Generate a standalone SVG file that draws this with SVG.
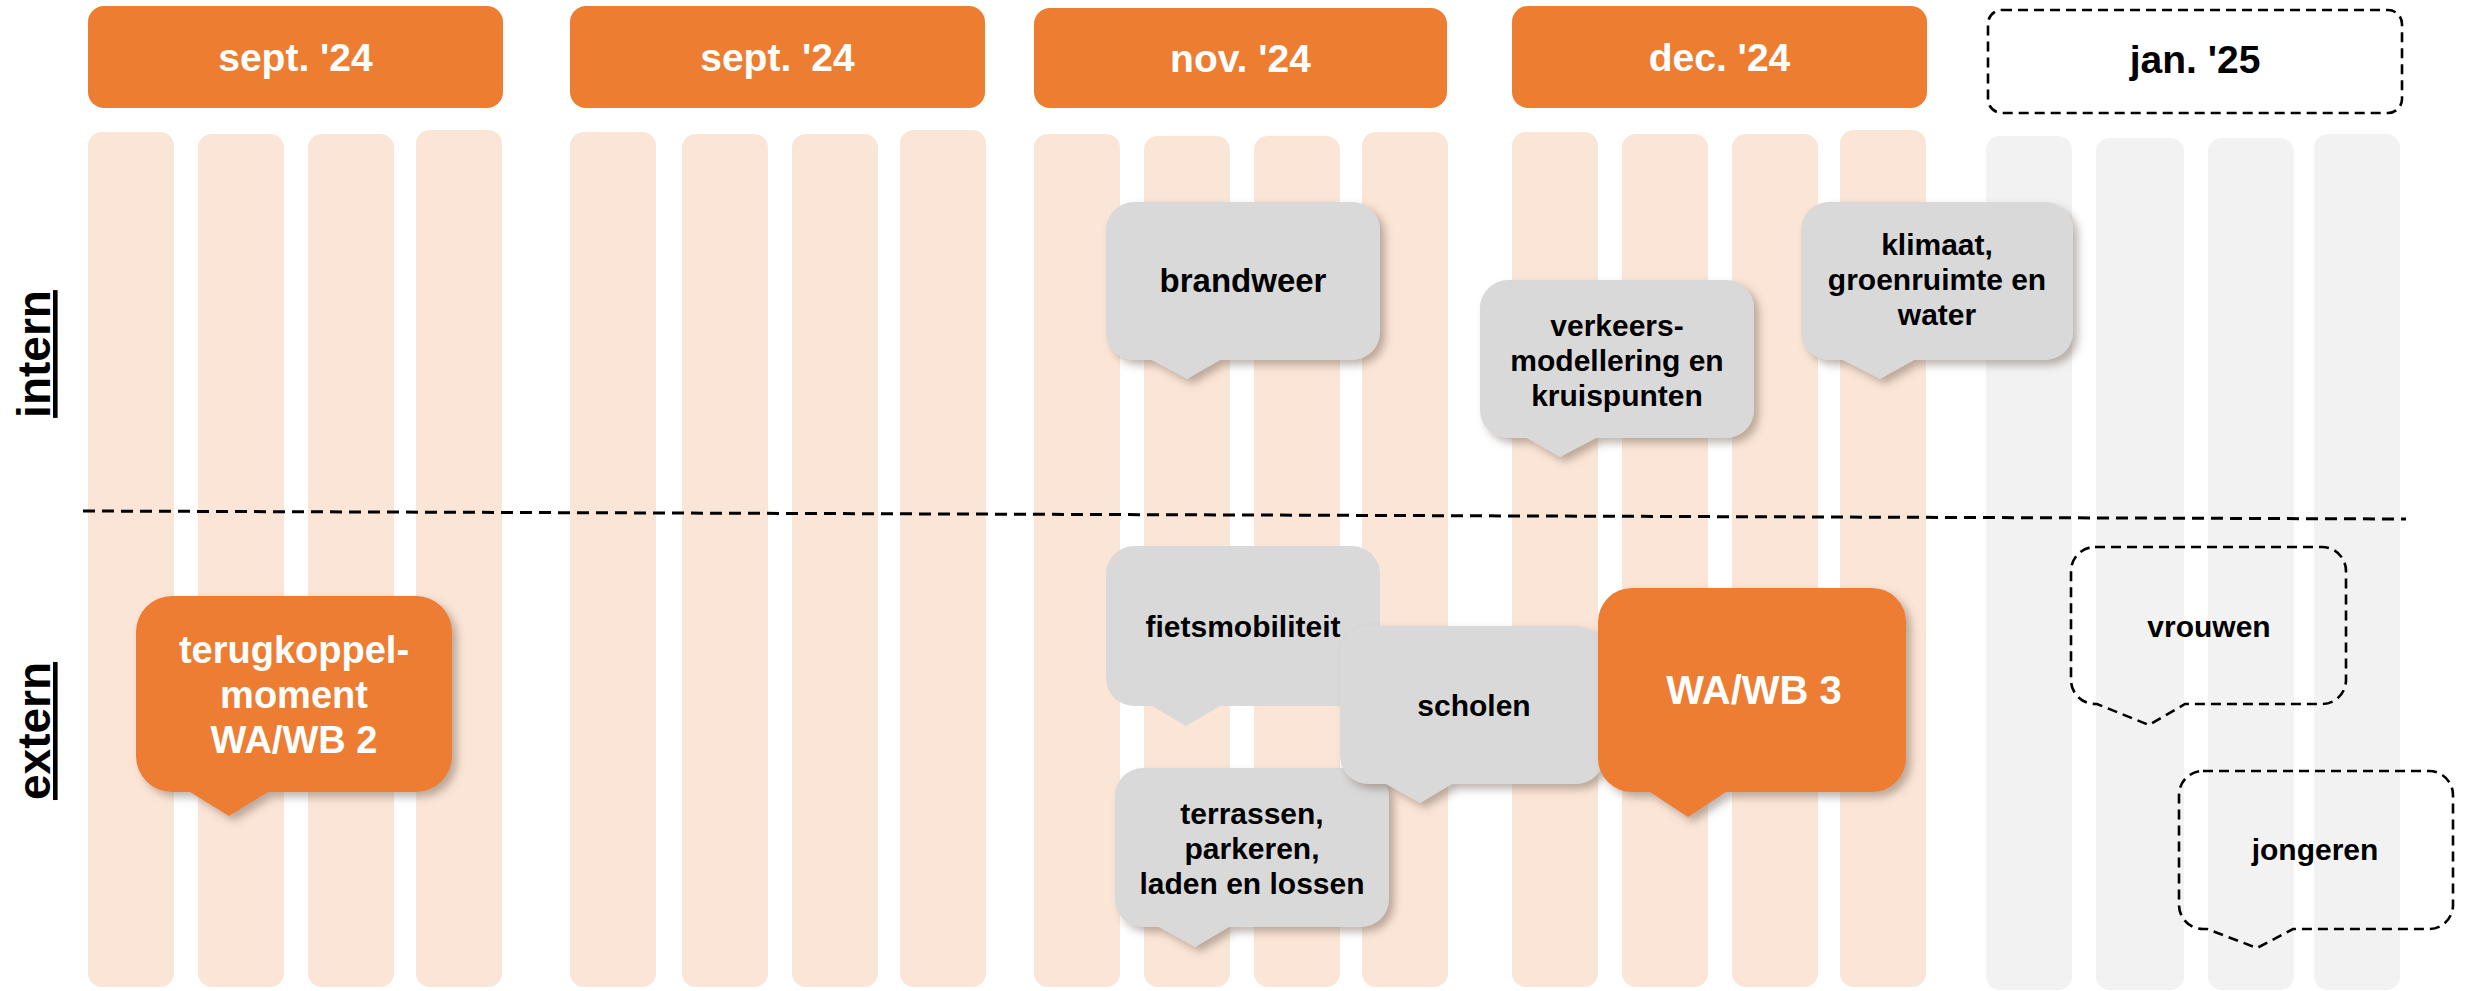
<svg xmlns="http://www.w3.org/2000/svg" width="2466" height="991" viewBox="0 0 2466 991">
<defs>
<filter id="sh" x="-10%" y="-10%" width="130%" height="140%">
<feDropShadow dx="5" dy="5" stdDeviation="4" flood-color="#6b5a4e" flood-opacity="0.45"/>
</filter>
<style>
.hdr{fill:#ED7D31}
.st{fill:#FBE5D6}
.sg{fill:#F2F2F2}
.cg{fill:#D9D9D9}
.co{fill:#ED7D31}
.cd{fill:none;stroke:#000;stroke-width:2.6;stroke-dasharray:10 6}
.t{font-family:"Liberation Sans",Arial,sans-serif;font-weight:bold;text-anchor:middle}
.th{font-size:39px;fill:#fff}
.tb{font-size:30px;fill:#000}
.tw{fill:#fff}
.lab{font-family:"Liberation Sans",Arial,sans-serif;font-weight:bold;font-size:46px;text-anchor:middle;text-decoration:underline;fill:#000}
</style>
</defs>
<rect width="2466" height="991" fill="#fff"/>
<g id="stripes">
<rect class="st" x="88" y="132" width="86" height="855" rx="14"/>
<rect class="st" x="198" y="134" width="86" height="853" rx="14"/>
<rect class="st" x="308" y="134" width="86" height="853" rx="14"/>
<rect class="st" x="416" y="130" width="86" height="857" rx="14"/>
<rect class="st" x="570" y="132" width="86" height="855" rx="14"/>
<rect class="st" x="682" y="134" width="86" height="853" rx="14"/>
<rect class="st" x="792" y="134" width="86" height="853" rx="14"/>
<rect class="st" x="900" y="130" width="86" height="857" rx="14"/>
<rect class="st" x="1034" y="134" width="86" height="853" rx="14"/>
<rect class="st" x="1144" y="136" width="86" height="851" rx="14"/>
<rect class="st" x="1254" y="136" width="86" height="851" rx="14"/>
<rect class="st" x="1362" y="132" width="86" height="855" rx="14"/>
<rect class="st" x="1512" y="132" width="86" height="855" rx="14"/>
<rect class="st" x="1622" y="134" width="86" height="853" rx="14"/>
<rect class="st" x="1732" y="134" width="86" height="853" rx="14"/>
<rect class="st" x="1840" y="130" width="86" height="857" rx="14"/>
<rect class="sg" x="1986" y="136" width="86" height="854" rx="14"/>
<rect class="sg" x="2096" y="138" width="88" height="852" rx="14"/>
<rect class="sg" x="2208" y="138" width="86" height="852" rx="14"/>
<rect class="sg" x="2314" y="134" width="86" height="856" rx="14"/>
</g>
<g id="header-sep1"><rect class="hdr" x="88" y="6" width="415" height="102" rx="16"/><text class="t th" x="295.5" y="71">sept. '24</text></g>
<g id="header-sep2"><rect class="hdr" x="570" y="6" width="415" height="102" rx="16"/><text class="t th" x="777.5" y="71">sept. '24</text></g>
<g id="header-nov"><rect class="hdr" x="1034" y="8" width="413" height="100" rx="16"/><text class="t th" x="1240.5" y="72">nov. '24</text></g>
<g id="header-dec"><rect class="hdr" x="1512" y="6" width="415" height="102" rx="16"/><text class="t th" x="1719.5" y="71">dec. '24</text></g>
<g id="header-jan"><rect x="1988" y="10" width="414" height="103" rx="14" fill="#fff" stroke="#000" stroke-width="2.6" stroke-dasharray="10 6"/><text class="t th" x="2195" y="73" fill="#000" style="fill:#000">jan. '25</text></g>
<g id="connectors">
<line x1="83" y1="511" x2="2406" y2="519" stroke="#000" stroke-width="3" stroke-dasharray="12 7"/>
</g>
<g id="label-intern"><text class="lab" transform="translate(50,354) rotate(-90)">intern</text></g>
<g id="label-extern"><text class="lab" transform="translate(50,731) rotate(-90)">extern</text></g>
<g id="wawb2">
<path class="co" filter="url(#sh)" d="M172,596 H416 A36,36 0 0 1 452,632 V756 A36,36 0 0 1 416,792 H268 L229,816 L190,792 H172 A36,36 0 0 1 136,756 V632 A36,36 0 0 1 172,596 Z"/>
<text class="t tw" font-size="38" x="294" y="663">terugkoppel-</text>
<text class="t tw" font-size="38" x="294" y="708">moment</text>
<text class="t tw" font-size="38" x="294" y="753">WA/WB 2</text>
</g>
<g id="brandweer">
<path class="cg" filter="url(#sh)" d="M1134,202 H1352 A28,28 0 0 1 1380,230 V332 A28,28 0 0 1 1352,360 H1220 L1187,379 L1152,360 H1134 A28,28 0 0 1 1106,332 V230 A28,28 0 0 1 1134,202 Z"/>
<text class="t" font-size="33" x="1243" y="292">brandweer</text>
</g>
<g id="verkeers">
<path class="cg" filter="url(#sh)" d="M1508,280 H1726 A28,28 0 0 1 1754,308 V410 A28,28 0 0 1 1726,438 H1596 L1560,457 L1527,438 H1508 A28,28 0 0 1 1480,410 V308 A28,28 0 0 1 1508,280 Z"/>
<text class="t tb" x="1617" y="336">verkeers-</text>
<text class="t tb" x="1617" y="371">modellering en</text>
<text class="t tb" x="1617" y="406">kruispunten</text>
</g>
<g id="klimaat">
<path class="cg" filter="url(#sh)" d="M1829,202 H2045 A28,28 0 0 1 2073,230 V332 A28,28 0 0 1 2045,360 H1914 L1880,379 L1843,360 H1829 A28,28 0 0 1 1801,332 V230 A28,28 0 0 1 1829,202 Z"/>
<text class="t tb" x="1937" y="255">klimaat,</text>
<text class="t tb" x="1937" y="290">groenruimte en</text>
<text class="t tb" x="1937" y="325">water</text>
</g>
<g id="fietsmobiliteit">
<path class="cg" d="M1134,546 H1352 A28,28 0 0 1 1380,574 V678 A28,28 0 0 1 1352,706 H1220 L1186,726 L1152,706 H1134 A28,28 0 0 1 1106,678 V574 A28,28 0 0 1 1134,546 Z"/>
<text class="t tb" x="1243" y="637">fietsmobiliteit</text>
</g>
<g id="terrassen">
<path class="cg" filter="url(#sh)" d="M1143,768 H1361 A28,28 0 0 1 1389,796 V899 A28,28 0 0 1 1361,927 H1229 L1195,947 L1159,927 H1143 A28,28 0 0 1 1115,899 V796 A28,28 0 0 1 1143,768 Z"/>
<text class="t tb" x="1252" y="824">terrassen,</text>
<text class="t tb" x="1252" y="859">parkeren,</text>
<text class="t tb" x="1252" y="894">laden en lossen</text>
</g>
<g id="scholen">
<path class="cg" filter="url(#sh)" d="M1368,626 H1576 A28,28 0 0 1 1604,654 V756 A28,28 0 0 1 1576,784 H1452 L1420,803 L1386,784 H1368 A28,28 0 0 1 1340,756 V654 A28,28 0 0 1 1368,626 Z"/>
<text class="t tb" x="1474" y="716">scholen</text>
</g>
<g id="wawb3">
<path class="co" filter="url(#sh)" d="M1632,588 H1872 A34,34 0 0 1 1906,622 V758 A34,34 0 0 1 1872,792 H1726 L1688,817 L1650,792 H1632 A34,34 0 0 1 1598,758 V622 A34,34 0 0 1 1632,588 Z"/>
<text class="t tw" font-size="40" x="1754" y="704">WA/WB 3</text>
</g>
<g id="vrouwen">
<path class="cd" d="M2095,547 H2322 A24,24 0 0 1 2346,571 V680 A24,24 0 0 1 2322,704 H2185 L2149,725 L2097,704 H2095 A24,24 0 0 1 2071,680 V571 A24,24 0 0 1 2095,547 Z"/>
<text class="t tb" x="2209" y="637">vrouwen</text>
</g>
<g id="jongeren">
<path class="cd" d="M2203,771 H2429 A24,24 0 0 1 2453,795 V905 A24,24 0 0 1 2429,929 H2293 L2257,948 L2207,929 H2203 A24,24 0 0 1 2179,905 V795 A24,24 0 0 1 2203,771 Z"/>
<text class="t tb" x="2315" y="860">jongeren</text>
</g>
</svg>
